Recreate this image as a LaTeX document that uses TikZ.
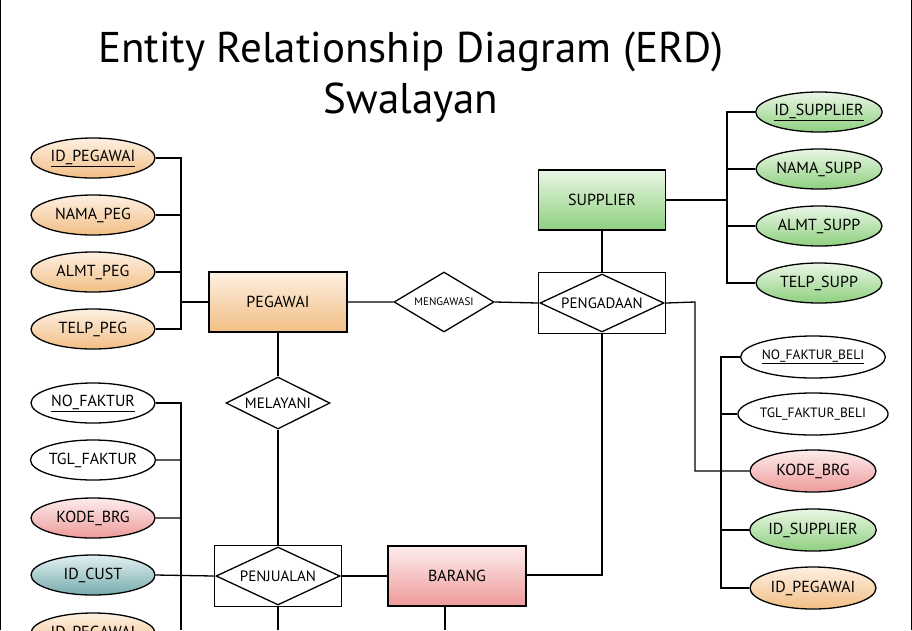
\documentclass[tikz,border=0pt]{standalone}
\usepackage{fontspec}
\setmainfont{PT Sans}
\usetikzlibrary{shapes.geometric}
\definecolor{orA}{HTML}{FDF0E2}\definecolor{orB}{HTML}{F2BE85}
\definecolor{grA}{HTML}{EAF7E6}\definecolor{grB}{HTML}{8ECF7E}
\definecolor{rdA}{HTML}{FDECEC}\definecolor{rdB}{HTML}{EE9A9A}
\definecolor{tlA}{HTML}{E2F0F0}\definecolor{tlB}{HTML}{76ABAE}
\tikzset{
 attr/.style={ellipse,draw,line width=1.3pt,minimum width=124pt,minimum height=40pt,inner sep=0pt,font=\fontsize{16}{16}\selectfont},
 wh/.style={fill=white},
 org/.style={top color=orA,bottom color=orB},
 grn/.style={top color=grA,bottom color=grB},
 red/.style={top color=rdA,bottom color=rdB},
 tel/.style={top color=tlA,bottom color=tlB},
 ent/.style={rectangle,draw,line width=1.3pt,minimum width=138pt,minimum height=60pt,font=\fontsize{16}{16}\selectfont},
 rel/.style={diamond,draw,line width=1.3pt,aspect=1.9,inner sep=0pt,font=\fontsize{15}{15}\selectfont},
 wbox/.style={rectangle,draw,line width=1.3pt,minimum width=127pt,minimum height=61pt},
 ln/.style={line width=1.3pt},
}
\begin{document}
\begin{tikzpicture}[x=1pt,y=-1pt]
\useasboundingbox (0,0) rectangle (912,630);
\fill[white] (0,0) rectangle (912,630);
\draw[line width=1pt] (0.5,0)--(0.5,630) (911.5,0)--(911.5,630);
\node (t1) at (411,52) {\fontsize{43}{43}\selectfont Entity Relationship Diagram (ERD)};
\node (t2) at (411,103) {\fontsize{43}{43}\selectfont Swalayan};
% left top
\node[attr,org] (p1) at (93,158) {\underline{ID\_PEGAWAI}};
\node[attr,org] (p2) at (93,215) {NAMA\_PEG};
\node[attr,org] (p3) at (93,272) {ALMT\_PEG};
\node[attr,org] (p4) at (93,329) {TELP\_PEG};
\node[ent,org] (peg) at (278,302) {PEGAWAI};
\coordinate (bp1) at (181,158); \coordinate (bp4) at (181,329);
\draw[ln] (p1.east)--(bp1)--(bp4)--(p4.east);
\draw[ln] (p2.east)--(181,215) (p3.east)--(181,272) (181,302)--(peg.west);
% supplier
\node[ent,grn,minimum width=127pt] (sup) at (602,200) {SUPPLIER};
\node[attr,grn,minimum width=126pt] (s1) at (819,112) {\underline{ID\_SUPPLIER}};
\node[attr,grn,minimum width=126pt] (s2) at (819,169) {NAMA\_SUPP};
\node[attr,grn,minimum width=126pt] (s3) at (819,226) {ALMT\_SUPP};
\node[attr,grn,minimum width=126pt] (s4) at (819,283) {TELP\_SUPP};
\draw[ln] (s1.west)--(727,112)--(727,283)--(s4.west);
\draw[ln] (s2.west)--(727,169) (s3.west)--(727,226) (sup.east)--(727,200);
% relations
\node[rel,minimum width=100pt,minimum height=60pt,font=\fontsize{11}{11}\selectfont] (meng) at (444,302) {MENGAWASI};
\node[wbox] (pgbox) at (602,303) {};
\node[rel,minimum width=124pt,minimum height=58pt] (pgd) at (602,303) {PENGADAAN};
\draw[ln] (peg.east)--(meng.west) (meng.east)--(pgbox.west);
\draw[ln] (sup.south)--(pgd.north);
\node[rel,minimum width=104pt,minimum height=52pt] (mel) at (278,403) {MELAYANI};
\draw[ln] (peg.south)--(mel.north);
\node[wbox] (pjbox) at (278,576) {};
\node[rel,minimum width=124pt,minimum height=58pt] (pj) at (278,576) {PENJUALAN};
\draw[ln] (mel.south)--(pjbox.north) (pj.south)--(278,630);
\node[ent,red] (brg) at (457,576) {BARANG};
\draw[ln] (pjbox.east)--(brg.west) (brg.south -| 445,0)--(445,630);
\draw[ln] (pgd.south)--(602,575)--(brg.east |- 0,575);
% right lower
\node[attr,wh,minimum width=126pt,minimum height=42pt,font=\fontsize{13.5}{13.5}\selectfont] (b1) at (813,357) {\underline{NO\_FAKTUR\_BELI}};
\node[attr,wh,minimum width=126pt,minimum height=42pt,font=\fontsize{13.5}{13.5}\selectfont] (b2) at (813,414) {TGL\_FAKTUR\_BELI};
\node[attr,red,minimum width=126pt,minimum height=42pt] (b3) at (813,471) {KODE\_BRG};
\node[attr,grn,minimum width=126pt,minimum height=42pt] (b4) at (813,530) {ID\_SUPPLIER};
\node[attr,org,minimum width=126pt,minimum height=42pt] (b5) at (813,588) {ID\_PEGAWAI};
\draw[ln] (b1.west)--(721,357)--(721,588)--(b5.west);
\draw[ln] (b2.west)--(721,414) (b4.west)--(721,530);
\draw[ln] (pgbox.east)--(695,302)--(695,471)--(b3.west);
% left lower
\node[attr,wh] (f1) at (93,403) {\underline{NO\_FAKTUR}};
\node[attr,wh] (f2) at (93,460) {TGL\_FAKTUR};
\node[attr,red] (f3) at (93,518) {KODE\_BRG};
\node[attr,tel] (f4) at (93,575) {ID\_CUST};
\node[attr,org] (f5) at (93,633) {ID\_PEGAWAI};
\draw[ln] (f1.east)--(181,403)--(181,630);
\draw[ln] (f2.east)--(181,460) (f3.east)--(181,518) (f4.east)--(pjbox.west);
\end{tikzpicture}
\end{document}
